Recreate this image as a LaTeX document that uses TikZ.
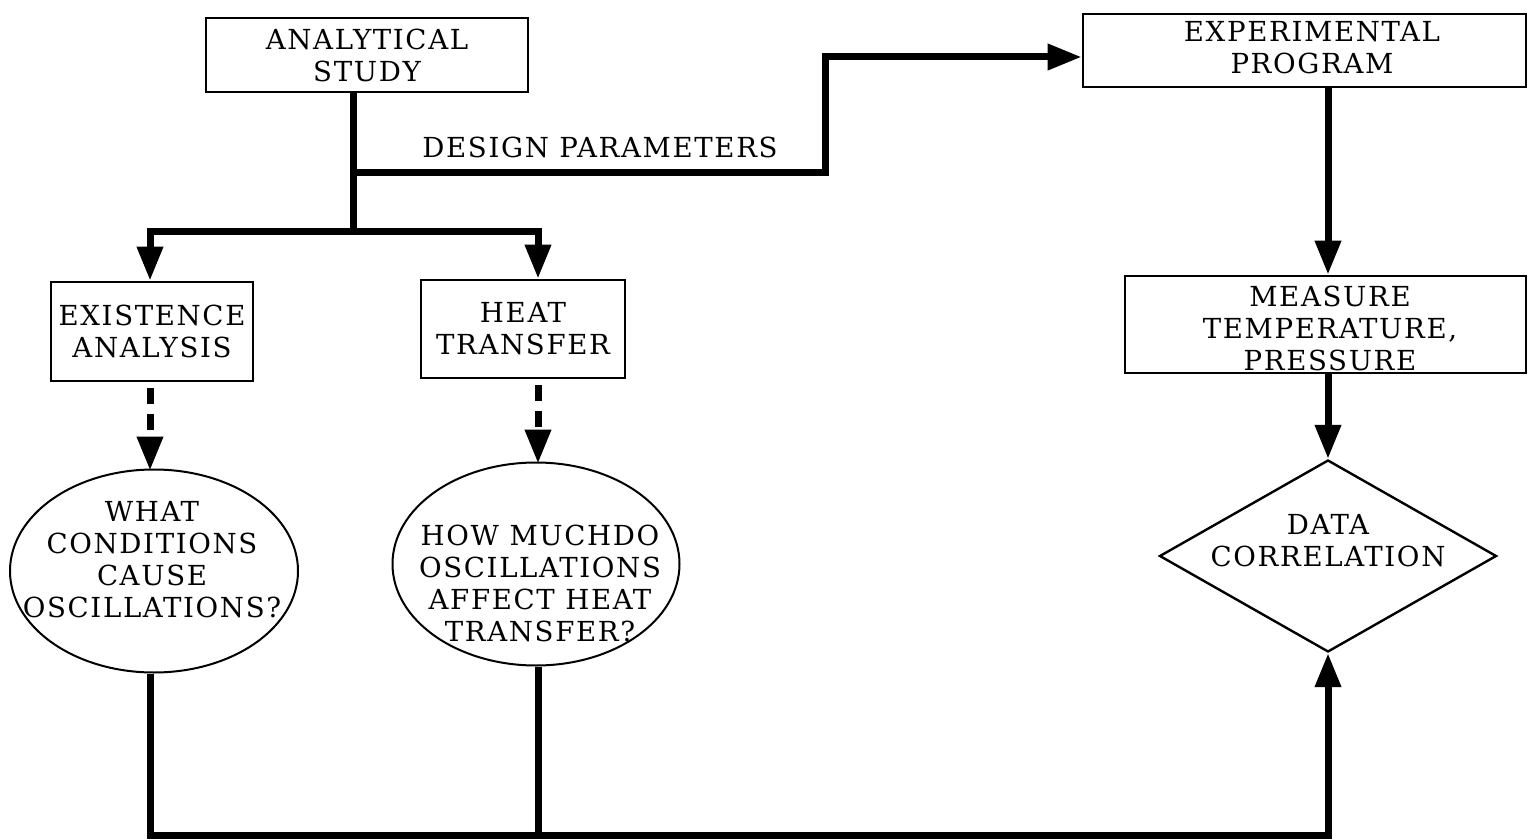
\documentclass[tikz,border=0pt]{standalone}
\usepackage{fontspec}
\setmainfont{DejaVu Serif}[LetterSpace=6]
\usetikzlibrary{arrows.meta,shapes.geometric,calc}
\begin{document}
\begin{tikzpicture}[x=0.5pt,y=-0.5pt,
  every node/.style={font=\fontsize{13.8}{16}\selectfont, align=center, inner sep=0pt},
  box/.style={draw, line width=1.4pt, rectangle},
  oval/.style={draw, line width=1pt, ellipse},
  dia/.style={draw, line width=1.2pt, diamond, aspect=1.755},
  arr/.style={line width=3.5pt, -{Triangle[length=17pt,width=12.5pt]}},
  flow/.style={line width=3.5pt},
  darr/.style={line width=3.5pt, dash pattern=on 8pt off 5pt, -{Triangle[length=17pt,width=12.5pt]}},
  txt/.style={}
]
\useasboundingbox (0,0) rectangle (1528,840);
\fill[white] (0,0) rectangle (1528,840);

% nodes
\node[box, minimum width=161pt, minimum height=37pt] (ana) at (367,55) {ANALYTICAL\\STUDY};
\node[box, minimum width=221.5pt, minimum height=36.5pt] (exp) at (1304.5,50.5) {};
\node[txt] (et) at (1312,48) {EXPERIMENTAL\\PROGRAM};
\node[box, minimum width=200.5pt, minimum height=48.5pt] (meas) at (1325.5,324.5) {};
\node[txt] (mt) at (1330,328) {MEASURE\\TEMPERATURE,\\PRESSURE};
\node[box, minimum width=101pt, minimum height=49.5pt] (exist) at (152,331.5) {EXISTENCE\\ANALYSIS};
\node[box, minimum width=102pt, minimum height=49pt] (heat) at (523,329) {HEAT\\TRANSFER};
\node[oval, minimum width=144pt, minimum height=101.5pt] (ell1) at (154,571) {};
\node[txt] (t1) at (152,560) {WHAT\\CONDITIONS\\CAUSE\\OSCILLATIONS?};
\node[oval, minimum width=143.5pt, minimum height=101.5pt] (ell2) at (536,564) {};
\node[txt] (t2) at (540,583) {HOW MUCHDO\\OSCILLATIONS\\AFFECT HEAT\\TRANSFER?};
\node[dia, minimum width=168.5pt, minimum height=96pt] (dc) at (1328,556) {};
\node[txt] (t3) at (1328,541) {DATA\\CORRELATION};
\node[txt] (dp) at (600,147) {DESIGN PARAMETERS};

% junctions
\coordinate (j1) at (353,173);
\coordinate (j2) at (353,232);
\coordinate (k2) at (825,57);
\coordinate (xl) at (150,232);
\coordinate (hb) at (538,232);
\coordinate (b) at (1328,835);

% connectors
\draw[flow] (ana.south -| j1) -- (j2);
\draw[arr] (j1) -| (k2) -- (k2 -| exp.west);
\draw[arr] (j2) -| (exist.north -| xl);
\draw[arr] (j2) -| (heat.north -| hb);
\draw[darr] ([yshift=-3pt]exist.south -| xl) -- ([yshift=-1pt]ell1.north -| xl);
\draw[darr] ([yshift=-3pt]heat.south -| hb) -- ([yshift=-1pt]ell2.north -| hb);
\draw[arr] (exp.south -| dc) -- (meas.north -| dc);
\draw[arr] (meas.south -| dc) -- (dc.north);
\draw[arr] (ell1.south -| xl) |- (b) -- (dc.south);
\draw[flow] (ell2.south -| hb) -- (b -| hb);
\end{tikzpicture}
\end{document}
